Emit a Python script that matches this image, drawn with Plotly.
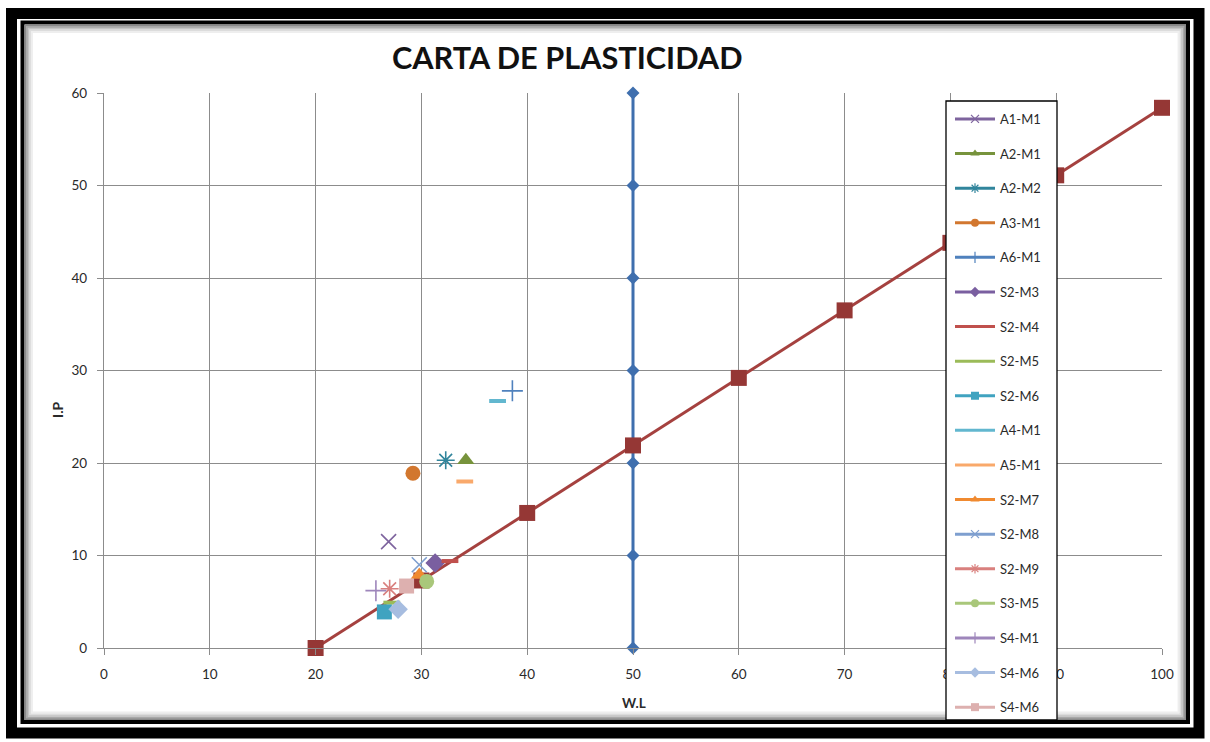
import plotly.graph_objects as go

# Sample results: liquid limit (W.L) and plasticity index (I.P)
sample_names = ["A1-M1", "A2-M1", "A2-M2", "A3-M1", "A6-M1", "S2-M3", "S2-M4", "S2-M5",
                "S2-M6", "A4-M1", "A5-M1", "S2-M7", "S2-M8", "S2-M9", "S3-M5", "S4-M1",
                "S4-M6", "S4-M6"]
sample_wl = [26.9, 34.2, 32.3, 29.2, 38.6, 31.3, 32.7, 27.2,
             26.5, 37.2, 34.1, 29.8, 29.8, 27.0, 30.5, 25.7,
             27.8, 28.6]
sample_ip = [11.5, 20.3, 20.3, 18.9, 27.8, 9.2, 9.4, 4.9,
             3.9, 26.7, 18.0, 7.9, 9.0, 6.4, 7.2, 6.2,
             4.2, 6.7]
sample_colors = ["#7E649E", "#77933C", "#31859C", "#D2772F", "#4F81BD", "#7A5FA0", "#C0504D", "#9BBB59",
                 "#40A3C0", "#62B7CF", "#F9A96B", "#F08A30", "#7E9FCF", "#D9807E", "#A9C77A", "#9E86BB",
                 "#A7BDE0", "#DDB0AF"]
sample_symbols = ["x-thin-open", "triangle-up", "asterisk-open", "circle", "cross-thin-open", "diamond",
                  "line-ew-open", "line-ew-open", "square", "line-ew-open", "line-ew-open", "triangle-up",
                  "x-thin-open", "asterisk-open", "circle", "cross-thin-open", "diamond", "square"]
legend_symbols = ["x-thin-open", "triangle-up", "asterisk-open", "circle", "line-ns-open", "diamond",
                  "line-ew-open", "line-ew-open", "square", "line-ew-open", "line-ew-open", "triangle-up",
                  "x-thin-open", "asterisk-open", "circle", "line-ns-open", "diamond", "square"]

# Casagrande A-line: IP = 0.73 (WL - 20)
aline_wl = [20, 30, 40, 50, 60, 70, 80, 90, 100]
aline_ip = [0, 7.3, 14.6, 21.9, 29.2, 36.5, 43.8, 51.1, 58.4]

# Vertical limit line at WL = 50
uline_wl = [50, 50, 50, 50, 50, 50, 50]
uline_ip = [0, 10, 20, 30, 40, 50, 60]

x_ticks = [0, 10, 20, 30, 40, 50, 60, 70, 80, 90, 100]
y_ticks = [0, 10, 20, 30, 40, 50, 60]

FONT = "Lato"
W, H = 1210, 742
L, R, T, B = 104, 48, 93, 94
PW, PH = W - L - R, H - T - B


def px(x):
    return (x - L) / PW


def py(y):
    return (H - B - y) / PH


fig = go.Figure()

fig.add_trace(go.Scatter(
    x=uline_wl, y=uline_ip, mode="lines+markers", showlegend=False, cliponaxis=False,
    line=dict(color="#3F6FAE", width=3),
    marker=dict(symbol="diamond", size=10, color="#3F6FAE"),
))
fig.add_trace(go.Scatter(
    x=aline_wl, y=aline_ip, mode="lines+markers", showlegend=False, cliponaxis=False,
    line=dict(color="#A5413F", width=3),
    marker=dict(symbol="square", size=16, color="#953735"),
))

for i, name in enumerate(sample_names):
    sym = sample_symbols[i]
    is_line = sym.startswith("line") or "thin" in sym or "asterisk" in sym
    fig.add_trace(go.Scatter(
        x=[sample_wl[i]], y=[sample_ip[i]], mode="markers", name=name,
        showlegend=False, legendgroup=f"g{i}", cliponaxis=False,
        marker=dict(symbol=sym, size=12 if sym.startswith("line") else 15, color=sample_colors[i],
                    line=dict(color=sample_colors[i], width=4 if sym.startswith("line") else (1.6 if is_line else 0))),
    ))

# legend entries with small markers
for i, name in enumerate(sample_names):
    sym = legend_symbols[i]
    thin = sym.startswith("line") or "thin" in sym or "asterisk" in sym
    fig.add_trace(go.Scatter(
        x=[None], y=[None], mode="lines+markers", name=name, legendgroup=f"g{i}",
        line=dict(color=sample_colors[i], width=3),
        marker=dict(symbol=sym, size=8, color=sample_colors[i],
                    line=dict(color=sample_colors[i], width=1.2 if thin else 0)),
    ))

axis_common = dict(
    showgrid=True, gridcolor="#8C8C8C", gridwidth=1.3, zeroline=False,
    showline=True, linecolor="#8C8C8C", linewidth=1.3,
    ticks="outside", ticklen=6, tickcolor="#8C8C8C", tickwidth=1.3,
    tickfont=dict(family=FONT, size=13.5, color="#2A2A2A"),
)
fig.update_xaxes(range=[0, 100], tickvals=x_ticks, ticklabelstandoff=8, **axis_common)
fig.update_yaxes(range=[0, 60], tickvals=y_ticks, ticklabelstandoff=7, **axis_common)

shapes = []
# outer thick frame
shapes.append(dict(type="rect", xref="paper", yref="paper",
                   x0=px(11.5), x1=px(1199), y0=py(13.5), y1=py(733),
                   line=dict(color="black", width=11), fillcolor="rgba(0,0,0,0)", layer="below"))
# inner thin frame
shapes.append(dict(type="rect", xref="paper", yref="paper",
                   x0=px(22.5), x1=px(1188), y0=py(22.5), y1=py(722),
                   line=dict(color="black", width=4), fillcolor="rgba(0,0,0,0)", layer="below"))
# soft inner shadow
for k, g in enumerate(["#8A8A8A", "#A8A8A8", "#C4C4C4", "#DCDCDC", "#EEEEEE"]):
    d = 25.5 + k * 1.6
    shapes.append(dict(type="rect", xref="paper", yref="paper",
                       x0=px(d), x1=px(1185 - k * 1.6), y0=py(d), y1=py(719 - k * 1.6),
                       line=dict(color=g, width=2), fillcolor="rgba(0,0,0,0)", layer="below"))
# legend box
shapes.append(dict(type="rect", xref="paper", yref="paper",
                   x0=px(946), x1=px(1057), y0=py(101), y1=py(720),
                   line=dict(color="black", width=1.3), fillcolor="white", layer="above"))

annotations = [
    dict(text="<b>CARTA DE PLASTICIDAD</b>", xref="paper", yref="paper", x=px(567), y=py(57),
         xanchor="center", yanchor="middle", showarrow=False,
         font=dict(family=FONT, size=30.7, color="#111111")),
    dict(text="<b>W.L</b>", xref="paper", yref="paper", x=px(634), y=py(703),
         xanchor="center", yanchor="middle", showarrow=False,
         font=dict(family=FONT, size=13.5, color="#2A2A2A")),
    dict(text="<b>I.P</b>", xref="paper", yref="paper", x=px(58), y=py(410),
         xanchor="center", yanchor="middle", showarrow=False, textangle=-90,
         font=dict(family=FONT, size=14, color="#2A2A2A")),
]

fig.update_layout(
    width=W, height=H,
    margin=dict(l=L, r=R, t=T, b=B, pad=0),
    paper_bgcolor="white", plot_bgcolor="white",
    shapes=shapes, annotations=annotations,
    legend=dict(x=px(950), y=py(104), xanchor="left", yanchor="top",
                bgcolor="rgba(0,0,0,0)", borderwidth=0, tracegroupgap=14.7,
                maxheight=700,
                font=dict(family=FONT, size=13, color="#2A2A2A"), itemwidth=40),
)

fig.write_html("out.html")
